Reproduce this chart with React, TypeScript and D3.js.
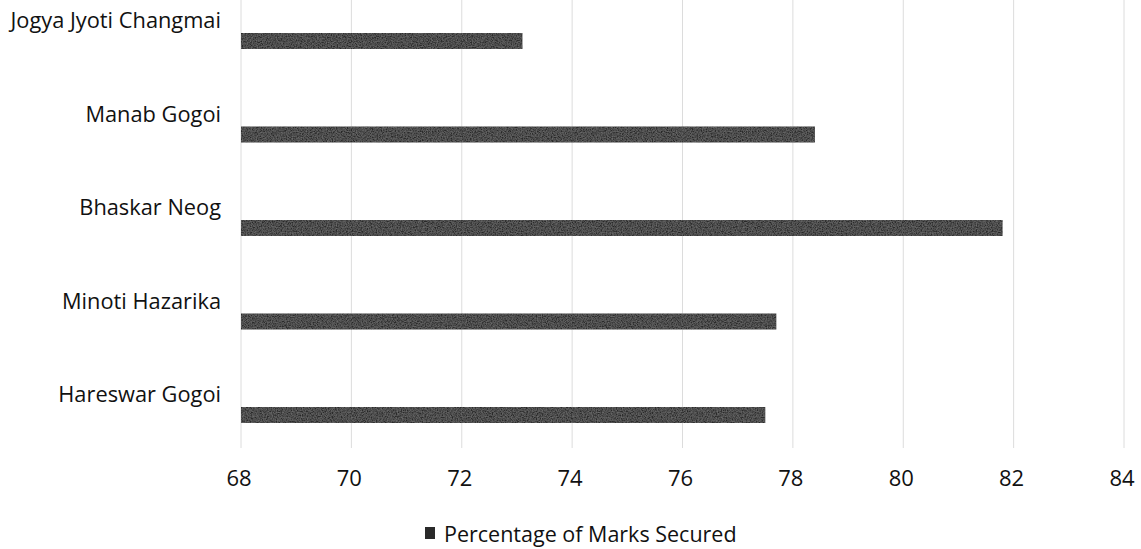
import React from "react";
import * as d3 from "d3";

const categories = [
  "Jogya Jyoti Changmai",
  "Manab Gogoi",
  "Bhaskar Neog",
  "Minoti Hazarika",
  "Hareswar Gogoi",
];
const values = [73.1, 78.4, 81.8, 77.7, 77.5];
const xTicks = [68, 70, 72, 74, 76, 78, 80, 82, 84];
const seriesName = "Percentage of Marks Secured";

const W = 1141;
const H = 549;
const FONT = "'Open Sans', 'Noto Sans', sans-serif";

export default function App() {
  const x = d3.scaleLinear().domain([68, 84]).range([241, 1124]);
  const y = d3.scalePoint<string>().domain(categories).range([41, 415]);
  const barH = 16;

  return (
    <svg
      width={W}
      height={H}
      style={{ position: "absolute", left: 0, top: 0, background: "#fff" }}
      fontFamily={FONT}
    >
      <defs>
        <filter id="grain" x="0" y="0" width="1" height="1">
          <feTurbulence type="fractalNoise" baseFrequency="0.8" numOctaves="2" seed="3" result="n" />
          <feColorMatrix
            in="n"
            type="matrix"
            values="0 0 0 0 0.55  0 0 0 0 0.55  0 0 0 0 0.55  0 0 0 0.4 -0.1"
            result="g"
          />
          <feComposite in="g" in2="SourceGraphic" operator="in" result="gm" />
          <feMerge>
            <feMergeNode in="SourceGraphic" />
            <feMergeNode in="gm" />
          </feMerge>
        </filter>
      </defs>
      {xTicks.map((t) => (
        <line
          key={"g" + t}
          x1={x(t)}
          x2={x(t)}
          y1={0}
          y2={448}
          stroke="#dcdcdc"
          strokeWidth={1}
        />
      ))}
      {categories.map((c, i) => (
        <g key={c}>
          <rect
            x={x(68)}
            y={(y(c) as number) - barH / 2}
            width={x(values[i]) - x(68)}
            height={barH}
            fill="#2a2a2a"
            filter="url(#grain)"
          />
          <text
            x={221}
            y={(y(c) as number) - 13}
            textAnchor="end"
            fontSize={21.8}
            fill="#111"
          >
            {c}
          </text>
        </g>
      ))}
      {xTicks.map((t) => (
        <text
          key={"t" + t}
          x={x(t) - 2}
          y={486}
          textAnchor="middle"
          fontSize={22}
          fill="#111"
        >
          {t}
        </text>
      ))}
      <rect x={425} y={527} width={10} height={12} fill="#2a2a2a" />
      <text x={444} y={542} fontSize={21.5} fill="#111">
        {seriesName}
      </text>
    </svg>
  );
}
